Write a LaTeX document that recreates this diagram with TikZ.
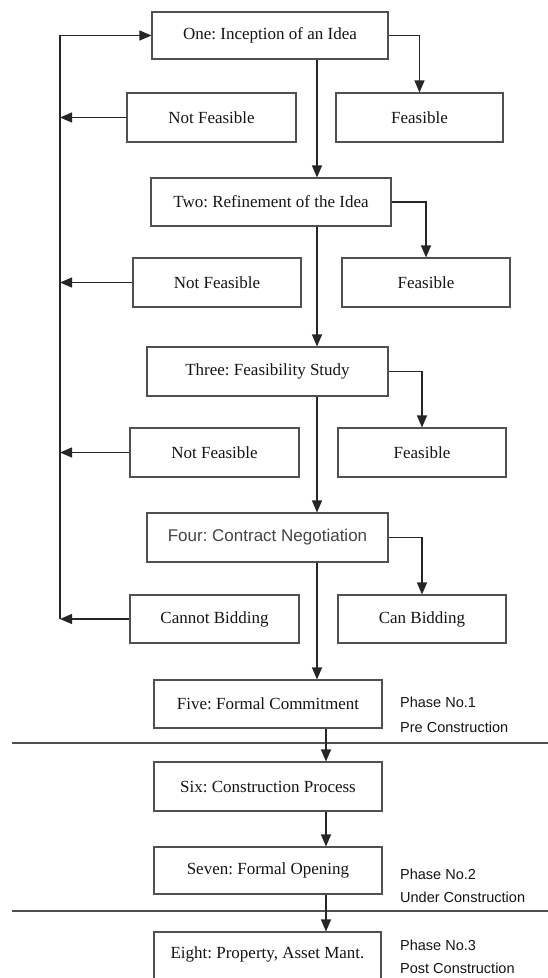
\documentclass[tikz,border=0pt]{standalone}
\usepackage{fontspec}
\setmainfont{Liberation Serif}
\newfontfamily\arialfont{Liberation Sans}
\usetikzlibrary{arrows.meta}
\frenchspacing
\definecolor{linegray}{HTML}{262626}
\definecolor{boxgray}{HTML}{505050}
\definecolor{textdark}{HTML}{151515}
\definecolor{sansgray}{HTML}{454545}
\tikzset{
  box/.style={draw=boxgray, line width=1.1pt, inner sep=0pt, text=textdark,
    font=\fontsize{17}{20}\selectfont},
  sansbox/.style={box, text=sansgray, font=\arialfont\fontsize{17}{20}\selectfont},
  arr/.style={draw=linegray, line width=1.2pt, -{Triangle[length=12pt,width=10pt]}},
  sepline/.style={draw=boxgray, line width=1.1pt},
  phase/.style={anchor=west, inner sep=0pt, text=textdark,
    font=\arialfont\fontsize{14.5}{17}\selectfont}
}
\begin{document}
\begin{tikzpicture}[x=1pt,y=-1pt]
\useasboundingbox (0,0) rectangle (548,978);
\clip (0,0) rectangle (548,978);
\fill[white] (0,0) rectangle (548,978);

% helper coordinates
\coordinate (lp) at (60,0);
\coordinate (sx) at (317,0);
\coordinate (lx) at (326,0);
\coordinate (s1a) at (12,743);
\coordinate (s1b) at (548,743);
\coordinate (s2a) at (12,911);
\coordinate (s2b) at (548,911);

% boxes
\node[box, minimum width=236pt, minimum height=47pt] (one) at (270,35.5) {One: Inception of an Idea};
\node[box, minimum width=169pt, minimum height=49pt] (nf1) at (211.5,117.5) {Not Feasible};
\node[box, minimum width=167pt, minimum height=49pt] (f1) at (419.5,117.5) {Feasible};

\node[box, minimum width=240pt, minimum height=48pt] (two) at (271,202) {Two: Refinement of the Idea};
\node[box, minimum width=168pt, minimum height=49pt] (nf2) at (217,282.5) {Not Feasible};
\node[box, minimum width=168pt, minimum height=49pt] (f2) at (426,282.5) {Feasible};

\node[box, minimum width=241pt, minimum height=49pt] (three) at (267.5,371.5) {Three: Feasibility Study};
\node[box, minimum width=169pt, minimum height=49pt] (nf3) at (214.5,452.5) {Not Feasible};
\node[box, minimum width=168pt, minimum height=49pt] (f3) at (422,452.5) {Feasible};

\node[sansbox, minimum width=241pt, minimum height=49pt] (four) at (267.5,537.5) {Four: Contract Negotiation};
\node[box, minimum width=169pt, minimum height=48pt] (cb) at (214.5,619) {Cannot Bidding};
\node[box, minimum width=168pt, minimum height=48pt] (canb) at (422,619) {Can Bidding};

\node[box, minimum width=228pt, minimum height=48pt] (five) at (268,704) {Five: Formal Commitment};
\node[box, minimum width=228pt, minimum height=49pt] (six) at (268,786.5) {Six: Construction Process};
\node[box, minimum width=228pt, minimum height=47pt] (seven) at (268,870.5) {Seven: Formal Opening};
\node[box, minimum width=227pt, minimum height=52pt, text depth=11pt] (eight) at (267.5,958) {Eight: Property, Asset Mant.};

% phase labels
\node[phase] (p1a) at (400,702) {Phase No.1};
\node[phase] (p1b) at (400,727) {Pre Construction};
\node[phase] (p2a) at (400,874) {Phase No.2};
\node[phase] (p2b) at (400,897) {Under Construction};
\node[phase] (p3a) at (400,945) {Phase No.3};
\node[phase] (p3b) at (400,968) {Post Construction};

% separators
\draw[sepline] (s1a) -- (s1b);
\draw[sepline] (s2a) -- (s2b);

% main spine
\draw[arr] (one.south -| sx) -- (two.north -| sx);
\draw[arr] (two.south -| sx) -- (three.north -| sx);
\draw[arr] (three.south -| sx) -- (four.north -| sx);
\draw[arr] (four.south -| sx) -- (five.north -| sx);
\draw[arr] (five.south -| lx) -- (six.north -| lx);
\draw[arr] (six.south -| lx) -- (seven.north -| lx);
\draw[arr] (seven.south -| lx) -- (eight.north -| lx);

% feasible branches
\draw[arr] (one.east) -| (f1.north);
\draw[arr] (two.east) -| (f2.north);
\draw[arr] (three.east) -| (f3.north);
\draw[arr] (four.east) -| (canb.north);

% not feasible branches
\draw[arr] (nf1.west) -- (nf1.west -| lp);
\draw[arr] (nf2.west) -- (nf2.west -| lp);
\draw[arr] (nf3.west) -- (nf3.west -| lp);
\draw[arr] (cb.west) -- (cb.west -| lp);
\draw[arr] (cb.west -| lp) |- (one.west);
\end{tikzpicture}
\end{document}
